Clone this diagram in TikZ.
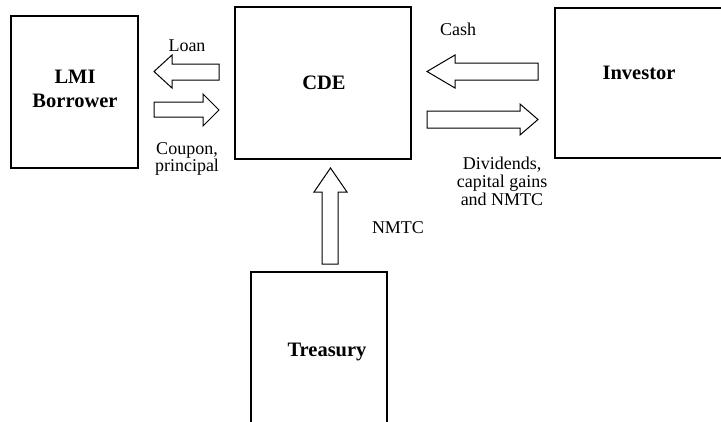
\documentclass[tikz,border=0pt]{standalone}
\usepackage{fontspec}
\setmainfont{Liberation Serif}
\begin{document}
\begin{tikzpicture}[x=1pt,y=-1pt,
  box/.style={draw=black,line width=1.4pt},
  blk/.style={draw=black,line width=1pt,fill=white,line join=miter},
  boxlabel/.style={font=\fontsize{20.5}{24}\selectfont\bfseries,align=center,inner sep=0pt},
  flowlabel/.style={font=\fontsize{18}{18}\selectfont,align=center,inner sep=0pt}]
\useasboundingbox (0,0) rectangle (721,421);
\clip (0,0) rectangle (721,421);
% boxes
\draw[box] (11,16) rectangle (138,168);
\draw[box] (235,7) rectangle (411,159);
\draw[box] (555,8) rectangle (740,158);
\draw[box] (251,272) rectangle (387,440);
\node[boxlabel] (lmi) at (75,89) {LMI\\Borrower};
\node[boxlabel] (cde) at (324,83) {CDE};
\node[boxlabel] (inv) at (639,73) {Investor};
\node[boxlabel] (tre) at (327,352) {Treasury};
% block arrows
\draw[blk] (219,64) -- (172,64) -- (172,55) -- (154,71.5) -- (172,88) -- (172,80) -- (219,80) -- cycle;
\draw[blk] (154,102) -- (203,102) -- (203,94) -- (219,110) -- (203,126) -- (203,117) -- (154,117) -- cycle;
\draw[blk] (538,63) -- (455,63) -- (455,55) -- (427,71.5) -- (455,88) -- (455,80) -- (538,80) -- cycle;
\draw[blk] (427,111) -- (520,111) -- (520,104) -- (538,119.5) -- (520,135) -- (520,128) -- (427,128) -- cycle;
\draw[blk] (322,264) -- (322,192) -- (314,192) -- (330.5,168) -- (347,192) -- (338,192) -- (338,264) -- cycle;
% labels
\node[flowlabel] (loan) at (187,46) {Loan};
\node[flowlabel,font=\fontsize{18}{17}\selectfont] (coupon) at (187,158.5) {Coupon,\\principal};
\node[flowlabel] (cash) at (458,29) {Cash};
\node[flowlabel] (div) at (502,181) {Dividends,\\capital gains\\and NMTC};
\node[flowlabel] (nmtc) at (398,228) {NMTC};
\end{tikzpicture}
\end{document}
